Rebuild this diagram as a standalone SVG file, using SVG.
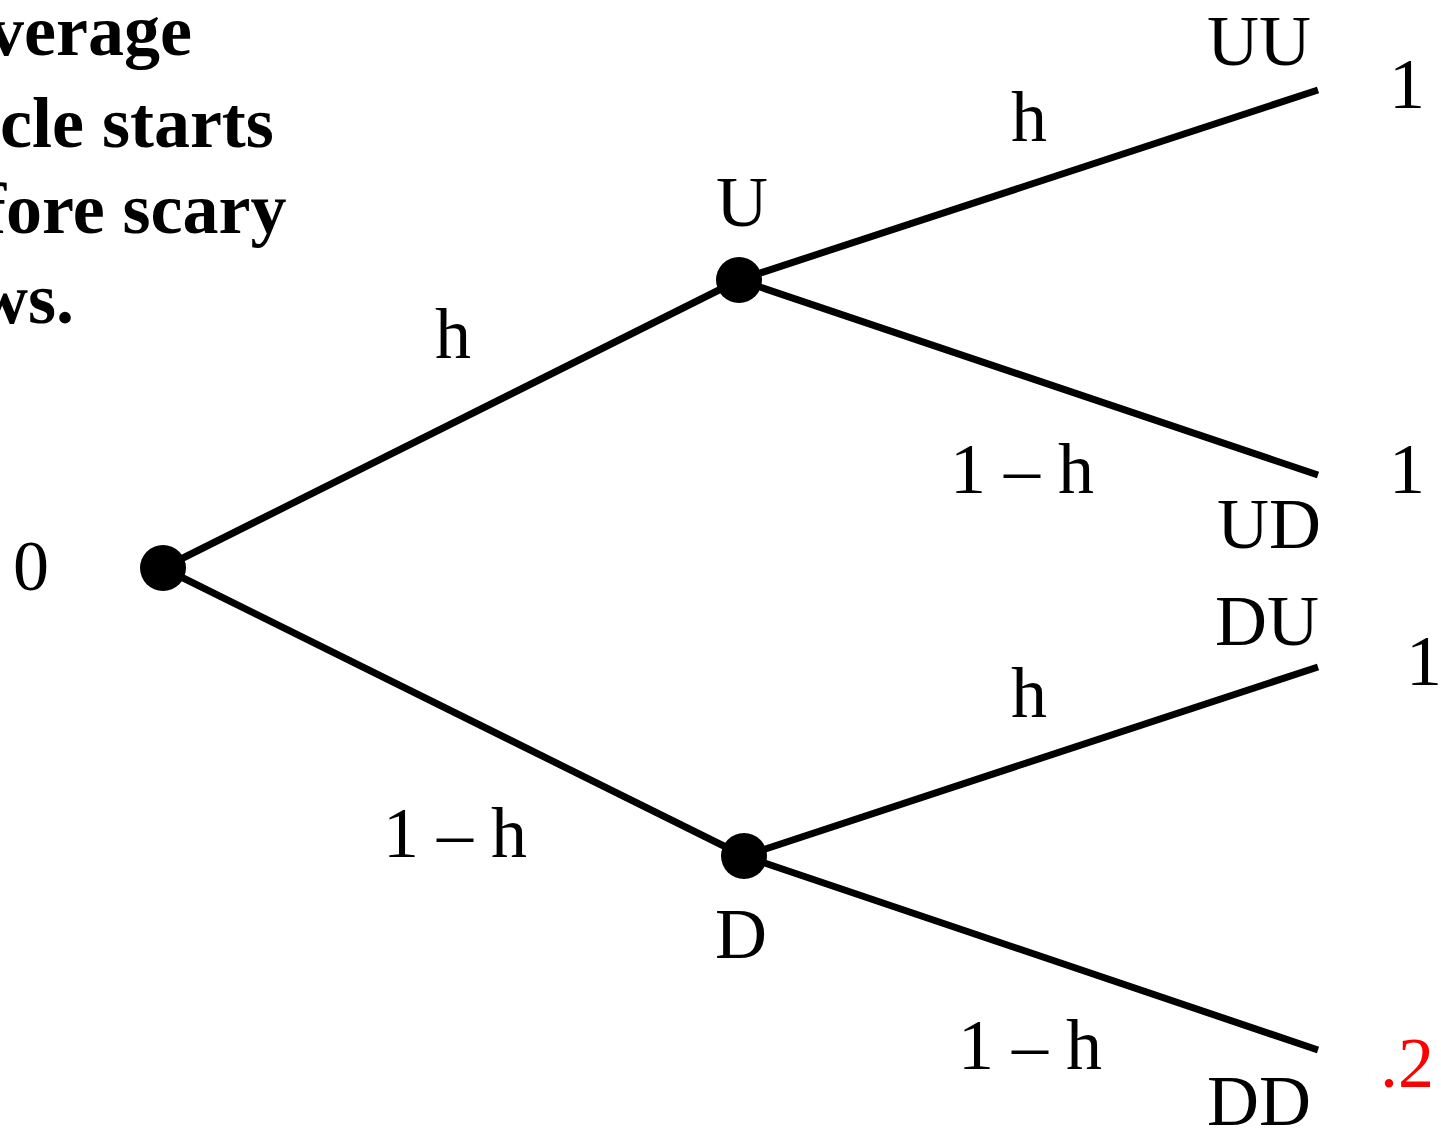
<svg xmlns="http://www.w3.org/2000/svg" width="1441" height="1130" viewBox="0 0 1441 1130">
<style>
.t{font-family:"Liberation Serif","Times New Roman",serif;font-size:72px;fill:#000}
.b{font-family:"Liberation Serif","Times New Roman",serif;font-size:72px;font-weight:bold;fill:#000}
.e{stroke:#000;stroke-width:7;fill:none}
.n{fill:#000}
</style>
<rect width="1441" height="1130" fill="#fff"/>
<g id="title">
<text class="b" x="-12" y="55">verage</text>
<text class="b" x="0" y="147">cle starts</text>
<text class="b" x="-18" y="233">fore scary</text>
<text class="b" x="-24" y="323">ws.</text>
</g>
<g id="connectors">
<line class="e" x1="163" y1="568" x2="739" y2="280"/>
<line class="e" x1="163" y1="568" x2="744" y2="856"/>
<line class="e" x1="739" y1="280" x2="1318" y2="90"/>
<line class="e" x1="739" y1="280" x2="1318" y2="475"/>
<line class="e" x1="744" y1="856" x2="1318" y2="667"/>
<line class="e" x1="744" y1="856" x2="1318" y2="1050"/>
<text class="t" x="435" y="358">h</text>
<text class="t" x="383" y="857">1 – h</text>
<text class="t" x="1011" y="141">h</text>
<text class="t" x="950" y="493">1 – h</text>
<text class="t" x="1011" y="717">h</text>
<text class="t" x="958" y="1069">1 – h</text>
</g>
<g id="node-root">
<circle class="n" cx="163" cy="568" r="23"/>
<text class="t" x="13" y="590">0</text>
</g>
<g id="node-U">
<circle class="n" cx="739" cy="280" r="23"/>
<text class="t" x="716" y="226">U</text>
</g>
<g id="node-D">
<circle class="n" cx="744" cy="856" r="23"/>
<text class="t" x="715" y="958">D</text>
</g>
<g id="node-UU">
<text class="t" x="1207" y="65">UU</text>
<text class="t" x="1389" y="108">1</text>
</g>
<g id="node-UD">
<text class="t" x="1217" y="548">UD</text>
<text class="t" x="1389" y="493">1</text>
</g>
<g id="node-DU">
<text class="t" x="1215" y="645">DU</text>
<text class="t" x="1406" y="685">1</text>
</g>
<g id="node-DD">
<text class="t" x="1207" y="1125">DD</text>
<text class="t" x="1380" y="1087" style="fill:#f00">.2</text>
</g>
</svg>
